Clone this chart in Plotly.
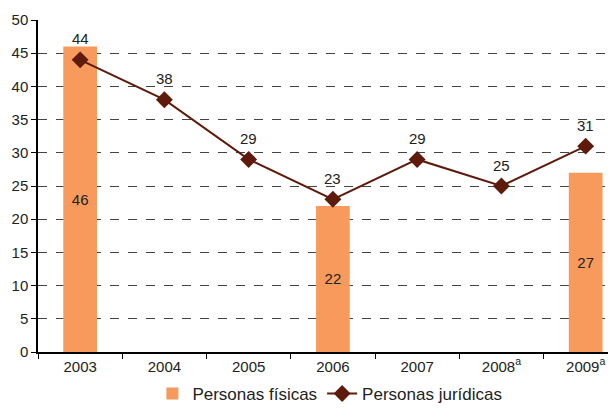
import plotly.graph_objects as go

years = ["2003", "2004", "2005", "2006", "2007", "2008<sup>a</sup>", "2009<sup>a</sup>"]
fisicas = [46, None, None, 22, None, None, 27]
juridicas = [44, 38, 29, 23, 29, 25, 31]

bar_color = "#F79A5B"
line_color = "#5E1A0B"

fig = go.Figure()

fig.add_trace(go.Bar(
    x=years, y=fisicas, name="Personas físicas",
    marker=dict(color=bar_color, line=dict(width=0)),
    width=0.4,
    text=[str(v) if v is not None else "" for v in fisicas],
    textposition="inside", insidetextanchor="middle",
    textfont=dict(size=15, color="#222222"),
))

fig.add_trace(go.Scatter(
    x=years, y=juridicas, name="Personas jurídicas",
    mode="lines+markers",
    line=dict(color=line_color, width=2),
    marker=dict(symbol="diamond", size=13, color=line_color),
))

# value labels above the line markers (x as category index)
for i, v in enumerate(juridicas):
    fig.add_annotation(x=i, y=v, text=str(v), showarrow=False,
                       yshift=21, font=dict(size=15, color="#222222"))

# page has an 8px body margin, so the figure is shrunk by 8px
fig.update_layout(
    width=608, height=404,
    margin=dict(l=30, r=0, t=12, b=60),
    plot_bgcolor="white", paper_bgcolor="white",
    font=dict(family="Liberation Sans, Arial, sans-serif", size=15, color="#222222"),
    showlegend=True,
    legend=dict(orientation="h", x=0.505, xanchor="center",
                yref="container", y=-0.01, yanchor="bottom",
                font=dict(size=17), traceorder="normal", itemwidth=30),
    bargap=0.6,
)

fig.update_xaxes(
    type="category", range=[-0.5, 6.36],
    showline=True, linecolor="black", linewidth=1.5,
    ticks="outside", tickson="boundaries", ticklen=5, tickcolor="black",
    showgrid=False, tickfont=dict(size=15),
)
fig.update_yaxes(
    range=[0, 50], dtick=5,
    showline=True, linecolor="black", linewidth=1.5,
    ticks="outside", ticklen=5, tickcolor="black",
    showgrid=True, gridcolor="#444444", griddash="dash", gridwidth=1,
    zeroline=False, tickfont=dict(size=15),
)

fig.write_html("out.html")
